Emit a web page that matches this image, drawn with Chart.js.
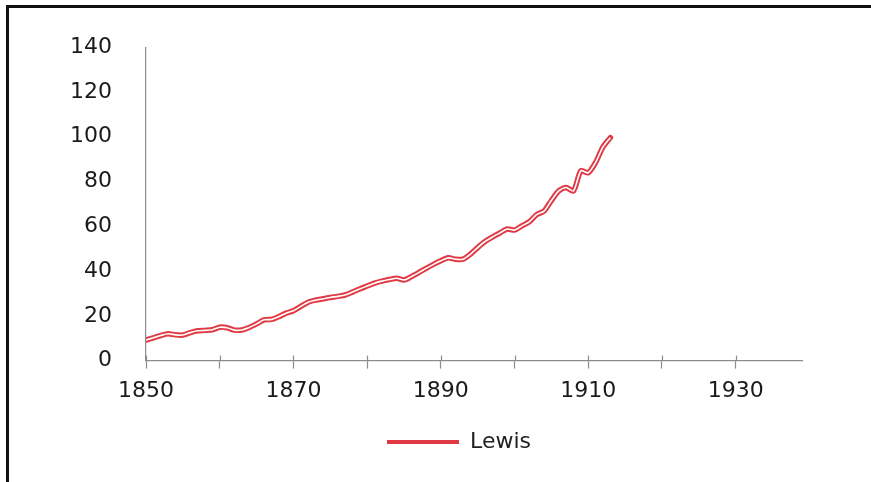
<!DOCTYPE html>
<html>
<head>
<meta charset="utf-8">
<script src="https://cdn.jsdelivr.net/npm/chart.js@4"></script>
<style>
  html, body { margin: 0; padding: 0; background: #fff; overflow: hidden; }
  #wrap { position: relative; width: 871px; height: 482px; }
  #frame {
    position: absolute; left: 6px; top: 5px; right: -20px; bottom: -20px;
    border-top: 3px solid #111; border-left: 3px solid #111;
    pointer-events: none;
  }
</style>
</head>
<body>
<div id="wrap">
  <canvas id="myChart" width="871" height="482"></canvas>
  <div id="frame"></div>
</div>
<script>
// años y valores (índice, 1913 ~ 100)
const years = [
  1850, 1851, 1852, 1853, 1854, 1855, 1856, 1857, 1858, 1859,
  1860, 1861, 1862, 1863, 1864, 1865, 1866, 1867, 1868, 1869,
  1870, 1871, 1872, 1873, 1874, 1875, 1876, 1877, 1878, 1879,
  1880, 1881, 1882, 1883, 1884, 1885, 1886, 1887, 1888, 1889,
  1890, 1891, 1892, 1893, 1894, 1895, 1896, 1897, 1898, 1899,
  1900, 1901, 1902, 1903, 1904, 1905, 1906, 1907, 1908, 1909,
  1910, 1911, 1912, 1913
];
const lewis = [
  9.2, 10.2, 11.2, 12.0, 11.5, 11.4, 12.5, 13.3, 13.5, 13.8,
  14.9, 14.7, 13.6, 13.7, 14.8, 16.4, 18.2, 18.4, 19.6, 21.2,
  22.3, 24.2, 26.1, 27.0, 27.6, 28.2, 28.7, 29.3, 30.6, 32.0,
  33.3, 34.6, 35.5, 36.2, 36.8, 36.0, 37.5, 39.3, 41.2, 43.0,
  44.6, 45.9, 45.3, 45.3, 47.5, 50.5, 53.2, 55.2, 57.0, 58.8,
  58.3, 60.2, 62.0, 65.2, 66.8, 71.5, 75.8, 77.3, 75.8, 84.8,
  83.9, 88.5, 95.5, 99.6
];
const seriesName = 'Lewis';
const xTickYears = [1850, 1860, 1870, 1880, 1890, 1900, 1910, 1920, 1930];
const xLabelYears = [1850, 1870, 1890, 1910, 1930];
const yTicks = [0, 20, 40, 60, 80, 100, 120, 140];

const points = years.map((y, i) => ({x: y, y: lewis[i]}));

const fontTicks = {family: 'DejaVu Sans', size: 22};
const axisGrey = '#8c8c8c';

// marcas del eje x que cruzan la línea (hacia arriba) y leyenda desplazada
const extrasPlugin = {
  id: 'extras',
  afterLayout(chart) {
    const lg = chart.legend;
    if (lg) {
      const shift = 459 - (lg.left + lg.right) / 2;
      lg.left += shift;
      lg.right += shift;
    }
  },
  afterDraw(chart) {
    const xs = chart.scales.x;
    const c = chart.ctx;
    c.save();
    c.strokeStyle = axisGrey;
    c.lineWidth = 1.2;
    xs.ticks.forEach(t => {
      const px = Math.round(xs.getPixelForValue(t.value)) + 0.5;
      c.beginPath();
      c.moveTo(px, xs.top - 5);
      c.lineTo(px, xs.top);
      c.stroke();
    });
    c.restore();
  }
};

let ctx = document.getElementById('myChart').getContext('2d');

let myChart = new Chart(ctx, {
  type: 'line',
  data: {
    datasets: [
      {
        label: seriesName,
        data: points,
        borderColor: '#e03a45',
        backgroundColor: '#e03a45',
        borderWidth: 5.5,
        borderCapStyle: 'round',
        pointRadius: 0,
        tension: 0.25,
        order: 1
      },
      {
        // línea blanca interior (efecto doble línea)
        label: '_inner',
        data: points,
        borderColor: '#ffffff',
        borderWidth: 1.6,
        pointRadius: 0,
        tension: 0.25,
        order: 0
      }
    ]
  },
  options: {
    responsive: false,
    animation: false,
    layout: { padding: { left: 10, right: 69, top: 37, bottom: 19 } },
    plugins: {
      tooltip: { enabled: false },
      legend: {
        position: 'bottom',
        labels: {
          generateLabels: chart => Chart.defaults.plugins.legend.labels.generateLabels(chart)
            .filter(item => item.text !== '_inner')
            .map(item => Object.assign(item, {lineWidth: 4})),
          usePointStyle: true,
          pointStyle: 'line',
          pointStyleWidth: 72,
          padding: 18,
          color: '#222',
          font: {family: 'DejaVu Sans', size: 22}
        }
      }
    },
    scales: {
      x: {
        type: 'linear',
        min: 1850,
        max: 1939,
        afterBuildTicks: scale => {
          scale.ticks = xTickYears.map(v => ({value: v}));
        },
        ticks: {
          padding: 9,
          maxRotation: 0,
          autoSkip: false,
          color: '#1a1a1a',
          font: fontTicks,
          callback: v => xLabelYears.includes(v) ? String(v) : ''
        },
        grid: {
          drawOnChartArea: false,
          tickLength: 8,
          tickColor: axisGrey,
          tickWidth: 1.2
        },
        border: { color: axisGrey, width: 1.2 }
      },
      y: {
        min: 0,
        max: 140,
        afterBuildTicks: scale => {
          scale.ticks = yTicks.map(v => ({value: v}));
        },
        afterFit: scale => { scale.width = 136; },
        ticks: {
          padding: 34,
          autoSkip: false,
          color: '#1a1a1a',
          font: fontTicks
        },
        grid: { display: true, drawOnChartArea: false, drawTicks: false },
        border: { color: axisGrey, width: 1.2 }
      }
    }
  },
  plugins: [extrasPlugin]
});
</script>
</body>
</html>
